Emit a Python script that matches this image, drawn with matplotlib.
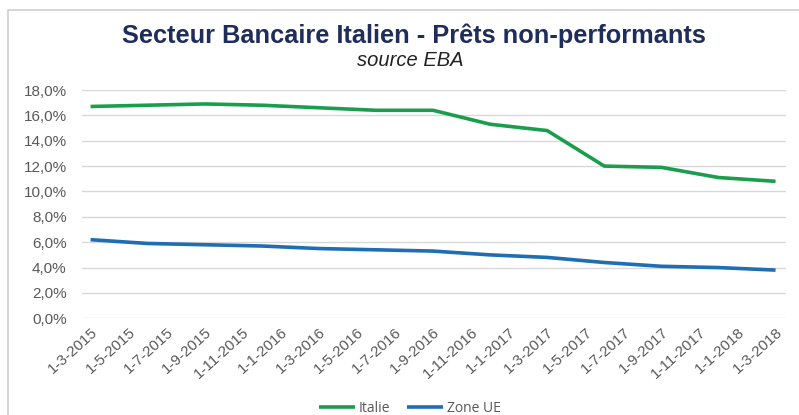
import matplotlib
matplotlib.use("Agg")
import matplotlib.pyplot as plt
from matplotlib.patches import Rectangle
from matplotlib.ticker import FuncFormatter

plt.rcParams['font.family'] = ['Liberation Sans', 'DejaVu Sans']

# Quarterly observation dates (year, month)
obs_dates = [(2015, 3), (2015, 6), (2015, 9), (2015, 12),
             (2016, 3), (2016, 6), (2016, 9), (2016, 12),
             (2017, 3), (2017, 6), (2017, 9), (2017, 12),
             (2018, 3)]
italie = [16.7, 16.8, 16.9, 16.8, 16.6, 16.4, 16.4, 15.3, 14.8, 12.0, 11.9, 11.1, 10.8]
zone_ue = [6.2, 5.9, 5.8, 5.7, 5.5, 5.4, 5.3, 5.0, 4.8, 4.4, 4.1, 4.0, 3.8]

tick_dates = [(2015, 3), (2015, 5), (2015, 7), (2015, 9), (2015, 11),
              (2016, 1), (2016, 3), (2016, 5), (2016, 7), (2016, 9), (2016, 11),
              (2017, 1), (2017, 3), (2017, 5), (2017, 7), (2017, 9), (2017, 11),
              (2018, 1), (2018, 3)]
tick_labels = ["1-%d-%d" % (m, y) for (y, m) in tick_dates]

def month_index(d):
    y, m = d
    return (y - 2015) * 12 + (m - 3)

x_obs = [month_index(d) for d in obs_dates]
x_ticks = [month_index(d) for d in tick_dates]

W, H = 799, 415
fig = plt.figure(figsize=(W / 100, H / 100), dpi=100)
fig.patch.set_facecolor('white')

# outer chart border
fig.patches.append(Rectangle((8 / W, -0.05), 1.2, (H - 10) / H + 0.05,
                             transform=fig.transFigure, fill=False,
                             edgecolor='#d0d0d0', linewidth=1.2))

ax = fig.add_axes([82 / W, 1 - 318.3 / H, (786 - 82) / W, (318.3 - 90) / H])
green = '#1a9e4e'
blue = '#1f6db5'
ax.plot(x_obs, italie, color=green, linewidth=2.6, label='Italie', solid_capstyle='butt')
ax.plot(x_obs, zone_ue, color=blue, linewidth=2.6, label='Zone UE', solid_capstyle='butt')

ax.set_ylim(0, 18)
ax.set_yticks([0, 2, 4, 6, 8, 10, 12, 14, 16, 18])
ax.yaxis.set_major_formatter(FuncFormatter(lambda v, p: ("%.1f%%" % v).replace('.', ',')))
ax.set_xlim(-0.45, 36.55)
ax.set_xticks(x_ticks)
ax.set_xticklabels(tick_labels, rotation=42, ha='right', rotation_mode='anchor')
ax.grid(axis='y', color='#d9d9d9', linewidth=1)
ax.set_axisbelow(True)
for s in ax.spines.values():
    s.set_visible(False)
ax.tick_params(axis='both', length=0, colors='#595959', labelsize=11)
ax.tick_params(axis='y', pad=11)
ax.tick_params(axis='x', pad=5)

fig.text(414 / W, 1 - 36 / H, "Secteur Bancaire Italien - Prêts non-performants",
         ha='center', va='center', fontsize=18.3, fontweight='bold', color='#1f2d5a')
fig.text(410 / W, 1 - 60 / H, "source EBA", ha='center', va='center',
         fontsize=14.5, style='italic', color='#222222')

fig.legend(loc='center', bbox_to_anchor=(410 / W, 1 - 408 / H), ncol=2, frameon=False,
           prop={'family': ['Open Sans', 'DejaVu Sans'], 'size': 10},
           handlelength=2.6, columnspacing=1.2, handletextpad=0.3,
           labelcolor='#595959')

fig.savefig('out.png', dpi=100, facecolor='white')
